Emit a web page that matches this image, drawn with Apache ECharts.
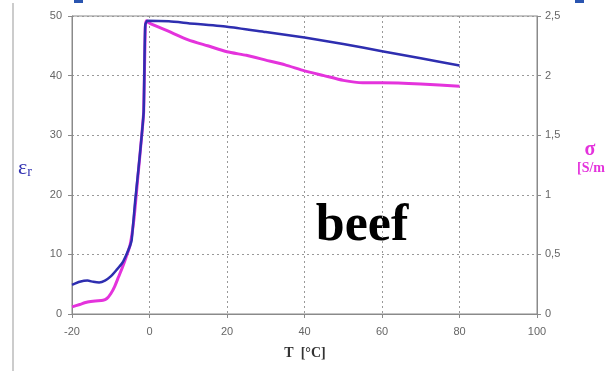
<!DOCTYPE html>
<html><head><meta charset="utf-8">
<script src="https://cdn.jsdelivr.net/npm/echarts@6/dist/echarts.min.js"></script>
<style>html,body{margin:0;padding:0;background:#fff;}#c{width:605px;height:371px;}</style>
</head><body><div id="c"></div>
<script>
// Temperature (°C) points for relative permittivity
const tempEps = [-20, -18, -16, -14.5, -13, -11.5, -10, -8.5, -7, -6, -5, -4.6, -3.7, -2.9, -2, -1.5, -1.1, -0.5, 5, 10, 20, 30, 40, 50, 60, 70, 80];
const epsR    = [4.9, 5.4, 5.6, 5.4, 5.3, 5.6, 6.3, 7.4, 8.6, 9.9, 11.5, 12.4, 19, 24, 30, 34, 48.5, 49.2, 49.1, 48.8, 48.2, 47.3, 46.4, 45.3, 44.1, 42.9, 41.7];
// Temperature (°C) points for conductivity (S/m)
const tempSigma = [-20, -18, -16, -14, -12, -11, -10, -9, -8, -7, -6, -5, -4, -3, -2, -1.5, -1.1, -0.8, 0, 5, 10, 15, 20, 25, 30, 35, 40, 45, 50, 55, 60, 70, 80];
const sigma     = [0.06, 0.08, 0.1, 0.11, 0.115, 0.13, 0.17, 0.23, 0.31, 0.39, 0.48, 0.58, 0.8, 1.15, 1.5, 1.7, 2.4, 2.46, 2.44, 2.37, 2.3, 2.25, 2.2, 2.17, 2.13, 2.09, 2.04, 2.0, 1.96, 1.94, 1.94, 1.93, 1.91];
const xTicks = {min: -20, max: 100, interval: 20};
const epsTicks = {min: 0, max: 50, interval: 10};
const sigmaTicks = {min: 0, max: 2.5, interval: 0.5};

const chart = echarts.init(document.getElementById('c'), null, {renderer: 'canvas'});
const lblStyle = {color: '#666', fontSize: 11, fontFamily: 'Liberation Sans, Arial, sans-serif'};
const gridLine = {show: true, lineStyle: {color: '#999', type: [2, 3], width: 1}};
chart.setOption({
  animation: false,
  backgroundColor: '#fff',
  grid: {left: 72, right: 68, top: 16, bottom: 57, show: true, borderColor: '#8a8a8a', borderWidth: 1, backgroundColor: 'transparent'},
  xAxis: {type: 'value', min: xTicks.min, max: xTicks.max, interval: xTicks.interval,
    axisLine: {show: true, onZero: false, lineStyle: {color: '#8a8a8a'}},
    axisTick: {show: true, length: 4, lineStyle: {color: '#8a8a8a'}},
    axisLabel: Object.assign({margin: 12}, lblStyle),
    splitLine: gridLine},
  yAxis: [
    {type: 'value', min: epsTicks.min, max: epsTicks.max, interval: epsTicks.interval, position: 'left',
      axisLine: {show: true, onZero: false, lineStyle: {color: '#8a8a8a'}},
      axisTick: {show: true, length: 4, lineStyle: {color: '#8a8a8a'}},
      axisLabel: Object.assign({margin: 10}, lblStyle),
      splitLine: gridLine},
    {type: 'value', min: sigmaTicks.min, max: sigmaTicks.max, interval: sigmaTicks.interval, position: 'right',
      axisLine: {show: true, onZero: false, lineStyle: {color: '#8a8a8a'}},
      axisTick: {show: true, length: 4, lineStyle: {color: '#8a8a8a'}},
      axisLabel: Object.assign({margin: 8, formatter: v => String(v).replace('.', ',')}, lblStyle),
      splitLine: {show: false}}
  ],
  series: [
    {type: 'line', yAxisIndex: 1, data: tempSigma.map((t, i) => [t, sigma[i]]), showSymbol: false, smooth: 0.2,
      lineStyle: {color: '#e433dc', width: 3}},
    {type: 'line', yAxisIndex: 0, data: tempEps.map((t, i) => [t, epsR[i]]), showSymbol: false, smooth: 0.2,
      lineStyle: {color: '#2e2eb0', width: 2.5}}
  ],
  graphic: [
    {type: 'line', shape: {x1: 13, y1: 3, x2: 13, y2: 371}, style: {stroke: '#bbb', lineWidth: 1.5}},
    {type: 'rect', shape: {x: 74, y: 0, width: 9, height: 3}, style: {fill: '#2a55b0'}},
    {type: 'rect', shape: {x: 575, y: 0, width: 9, height: 3}, style: {fill: '#2a55b0'}},
    {type: 'text', style: {text: 'T  [°C]', x: 305, y: 353, fill: '#333', font: 'bold 14px Liberation Serif, serif', textAlign: 'center', textVerticalAlign: 'middle'}},
    {type: 'text', style: {text: '{a|ε}{b|r}', x: 18, y: 168, textVerticalAlign: 'middle',
      rich: {a: {fontSize: 22, fontFamily: 'Liberation Serif, serif', fill: '#2e2eb0'}, b: {fontSize: 14, fontFamily: 'Liberation Serif, serif', fill: '#2e2eb0', verticalAlign: 'bottom', padding: [6, 0, 0, 0]}}}},
    {type: 'text', style: {text: 'σ', x: 590, y: 150, fill: '#e433dc', font: 'bold 20px Liberation Serif, serif', textAlign: 'center', textVerticalAlign: 'middle'}},
    {type: 'text', style: {text: '[S/m]', x: 577, y: 168, fill: '#e433dc', font: 'bold 14px Liberation Serif, serif', textAlign: 'left', textVerticalAlign: 'middle'}},
    {type: 'text', style: {text: 'beef', x: 362, y: 227, fill: '#000', font: 'bold 52px Liberation Serif, serif', textAlign: 'center', textVerticalAlign: 'middle'}}
  ]
});
</script></body></html>
